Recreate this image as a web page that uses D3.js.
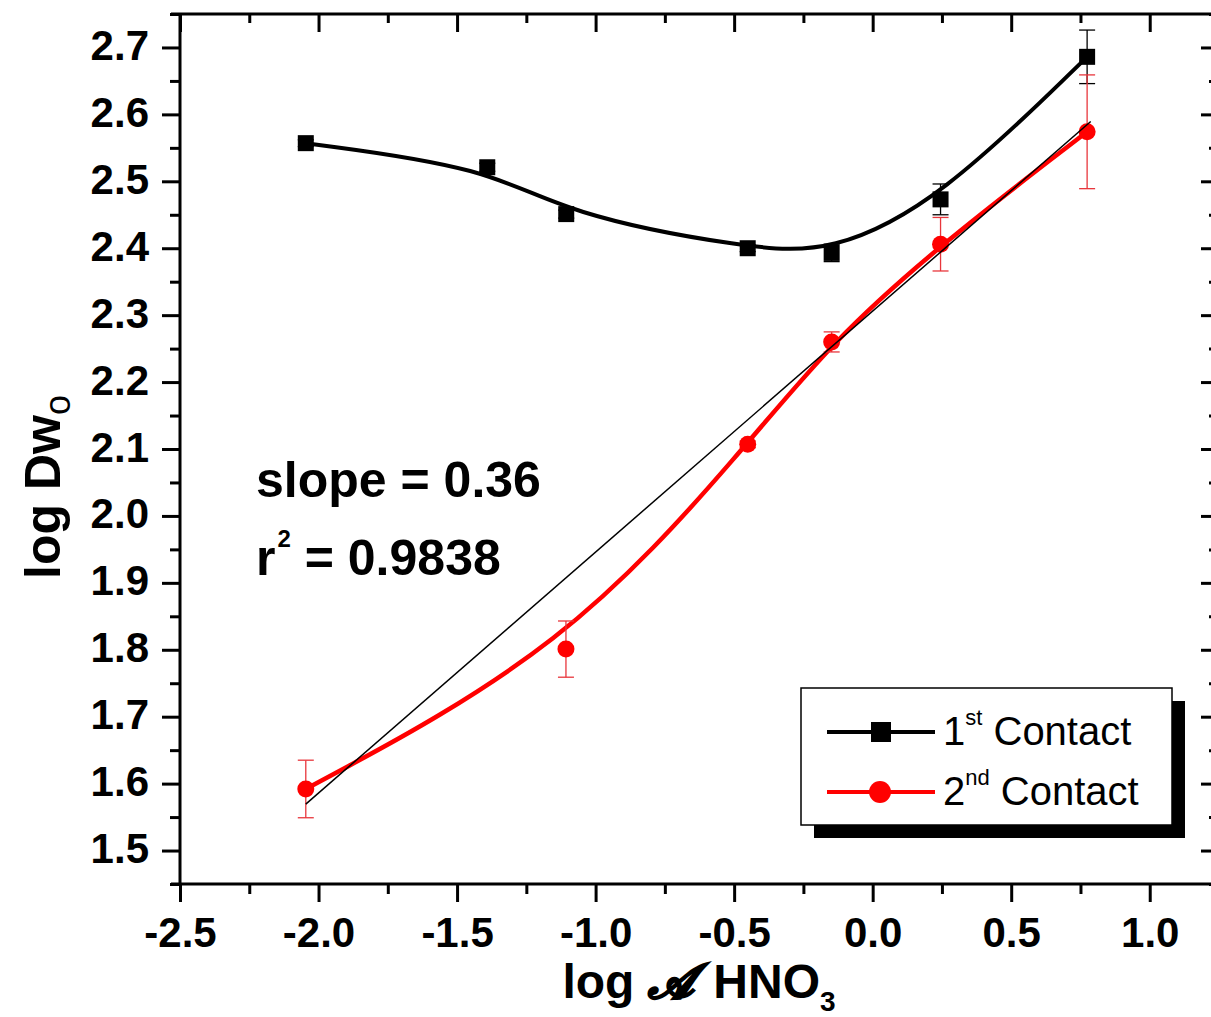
<!DOCTYPE html>
<html>
<head>
<meta charset="utf-8">
<script src="https://cdn.jsdelivr.net/npm/d3@7"></script>
<style>
  body { margin: 0; background: #fff; }
  svg { display: block; }
  text { font-family: "Liberation Sans", Arial, Helvetica, sans-serif; }
</style>
</head>
<body>
<svg id="chart" width="1211" height="1017"></svg>
<script>
// Axis ticks and their printed labels
const xTickValues = [-2.5, -2.0, -1.5, -1.0, -0.5, 0.0, 0.5, 1.0];
const xTickLabels = ["-2.5", "-2.0", "-1.5", "-1.0", "-0.5", "0.0", "0.5", "1.0"];
const yTickValues = [1.5, 1.6, 1.7, 1.8, 1.9, 2.0, 2.1, 2.2, 2.3, 2.4, 2.5, 2.6, 2.7];
const yTickLabels = ["1.5", "1.6", "1.7", "1.8", "1.9", "2.0", "2.1", "2.2", "2.3", "2.4", "2.5", "2.6", "2.7"];

// 1st contact: log a(HNO3) vs log Dw, with standard errors
const firstX   = [-2.046, -1.391, -1.106, -0.451, -0.148, 0.245, 0.774];
const firstY   = [2.557, 2.521, 2.451, 2.400, 2.393, 2.473, 2.686];
const firstErr = [0.005, 0.006, 0.006, 0.005, 0.013, 0.023, 0.040];

// 2nd contact
const secondX   = [-2.046, -1.107, -0.451, -0.148, 0.245, 0.774];
const secondY   = [1.592, 1.801, 2.107, 2.260, 2.406, 2.574];
const secondErr = [0.043, 0.042, 0.005, 0.015, 0.040, 0.085];

// Linear fit of the 2nd contact
const fitSlope = 0.36;
const fitIntercept = 2.306;
const fitXRange = [-2.046, 0.787];
const fitR2 = "0.9838";

const seriesNames = ["Contact", "Contact"];

const svg = d3.select("#chart");
const W = 1211, H = 1017;
svg.append("rect").attr("width", W).attr("height", H).attr("fill", "#fff");

const plot = { left: 180, right: 1219, top: 14, bottom: 884 };

const x = d3.scaleLinear().domain([-2.5, 1.25]).range([plot.left, plot.right]);
const y = d3.scaleLinear().domain([1.45, 2.75]).range([plot.bottom, plot.top]);

const xMinor = d3.range(-2.5, 1.2501, 0.25).filter(v => !xTickValues.some(t => Math.abs(t - v) < 1e-6));
const yMinor = d3.range(1.45, 2.7501, 0.05).filter(v => !yTickValues.some(t => Math.abs(t - v) < 1e-6));

const AXW = 3;

function styleAxis(g) {
  g.select(".domain").remove();
  g.selectAll(".tick line").attr("stroke", "#000").attr("stroke-width", AXW);
}

// Left axis (outward ticks, labelled)
const gLeft = svg.append("g").attr("transform", `translate(${plot.left},0)`)
  .call(d3.axisLeft(y).tickValues(yTickValues)
    .tickFormat(d => yTickLabels[yTickValues.indexOf(d)])
    .tickSize(18).tickPadding(13));
styleAxis(gLeft);
gLeft.selectAll(".tick text")
  .attr("fill", "#000").attr("font-size", 42).attr("font-weight", "bold")
  .attr("font-family", "'Liberation Sans', Arial, sans-serif")
  .attr("dy", 12);
svg.append("g").attr("transform", `translate(${plot.left},0)`)
  .call(d3.axisLeft(y).tickValues(yMinor).tickFormat("").tickSize(10))
  .call(styleAxis);

// Bottom axis (outward ticks, labelled)
const gBottom = svg.append("g").attr("transform", `translate(0,${plot.bottom})`)
  .call(d3.axisBottom(x).tickValues(xTickValues)
    .tickFormat(d => xTickLabels[xTickValues.indexOf(d)])
    .tickSize(18).tickPadding(8));
styleAxis(gBottom);
gBottom.selectAll(".tick text")
  .attr("fill", "#000").attr("font-size", 42).attr("font-weight", "bold")
  .attr("font-family", "'Liberation Sans', Arial, sans-serif")
  .attr("dy", 0).attr("y", 63);
svg.append("g").attr("transform", `translate(0,${plot.bottom})`)
  .call(d3.axisBottom(x).tickValues(xMinor).tickFormat("").tickSize(10))
  .call(styleAxis);

// Top axis (inward ticks)
svg.append("g").attr("transform", `translate(0,${plot.top})`)
  .call(d3.axisTop(x).tickValues(xTickValues).tickFormat("").tickSize(-18))
  .call(styleAxis);
svg.append("g").attr("transform", `translate(0,${plot.top})`)
  .call(d3.axisTop(x).tickValues(xMinor).tickFormat("").tickSize(-9))
  .call(styleAxis);

// Right axis (inward ticks)
svg.append("g").attr("transform", `translate(${plot.right},0)`)
  .call(d3.axisRight(y).tickValues(yTickValues).tickFormat("").tickSize(-18))
  .call(styleAxis);
svg.append("g").attr("transform", `translate(${plot.right},0)`)
  .call(d3.axisRight(y).tickValues(yMinor).tickFormat("").tickSize(-10))
  .call(styleAxis);

// Frame lines
const frame = svg.append("g").attr("stroke", "#000").attr("stroke-width", AXW).attr("fill", "none");
frame.append("line").attr("x1", plot.left - 9).attr("x2", plot.right).attr("y1", plot.top).attr("y2", plot.top);
frame.append("line").attr("x1", plot.left - 9).attr("x2", plot.right).attr("y1", plot.bottom).attr("y2", plot.bottom);
frame.append("line").attr("x1", plot.left).attr("x2", plot.left).attr("y1", plot.top).attr("y2", plot.bottom);
frame.append("line").attr("x1", plot.right).attr("x2", plot.right).attr("y1", plot.top).attr("y2", plot.bottom);

// Data
const first = firstX.map((v, i) => ({ x: v, y: firstY[i], e: firstErr[i] }));
const second = secondX.map((v, i) => ({ x: v, y: secondY[i], e: secondErr[i] }));

const spline = d3.line().x(d => x(d.x)).y(d => y(d.y)).curve(d3.curveBasis);

svg.append("path").datum(first).attr("d", spline)
  .attr("fill", "none").attr("stroke", "#000").attr("stroke-width", 4);
svg.append("path").datum(second).attr("d", spline)
  .attr("fill", "none").attr("stroke", "#ff0000").attr("stroke-width", 4.5);

function errorBars(data, color) {
  const g = svg.append("g").attr("stroke", color).attr("stroke-width", 1.3).attr("fill", "none");
  data.forEach(d => {
    const cx = x(d.x), y0 = y(d.y - d.e), y1 = y(d.y + d.e);
    g.append("line").attr("x1", cx).attr("x2", cx).attr("y1", y0).attr("y2", y1);
    g.append("line").attr("x1", cx - 8).attr("x2", cx + 8).attr("y1", y0).attr("y2", y0);
    g.append("line").attr("x1", cx - 8).attr("x2", cx + 8).attr("y1", y1).attr("y2", y1);
  });
}
errorBars(first, "#000");
errorBars(second, "#e8363c");

svg.append("g").selectAll("rect").data(first).join("rect")
  .attr("x", d => x(d.x) - 8).attr("y", d => y(d.y) - 8)
  .attr("width", 16).attr("height", 16).attr("fill", "#000");
svg.append("g").selectAll("circle").data(second).join("circle")
  .attr("cx", d => x(d.x)).attr("cy", d => y(d.y)).attr("r", 8.5).attr("fill", "#ff0000");

// Fitted straight line
svg.append("line")
  .attr("x1", x(fitXRange[0])).attr("y1", y(fitIntercept + fitSlope * fitXRange[0]))
  .attr("x2", x(fitXRange[1])).attr("y2", y(fitIntercept + fitSlope * fitXRange[1]))
  .attr("stroke", "#000").attr("stroke-width", 1.5);

// Fit annotation
const ann = svg.append("g").attr("font-weight", "bold").attr("fill", "#000");
ann.append("text").attr("x", 256).attr("y", 497).attr("font-size", 50)
  .text(`slope = ${fitSlope.toFixed(2)}`);
const r2t = ann.append("text").attr("x", 256).attr("y", 575).attr("font-size", 50);
r2t.append("tspan").text("r");
r2t.append("tspan").attr("font-size", 24).attr("dy", -28).attr("dx", 2).text("2");
r2t.append("tspan").attr("dy", 28).text(` = ${fitR2}`);

// Axis titles
const yTitle = svg.append("text")
  .attr("transform", "translate(60,487) rotate(-90)")
  .attr("text-anchor", "middle").attr("font-size", 50).attr("font-weight", "bold");
yTitle.append("tspan").text("log Dw");
yTitle.append("tspan").attr("font-size", 36).attr("font-weight", "normal").attr("dy", 10).text("o");

const xTitle = svg.append("text")
  .attr("x", 699).attr("y", 998)
  .attr("text-anchor", "middle").attr("font-size", 48).attr("font-weight", "bold");
xTitle.append("tspan").text("log");
xTitle.append("tspan").attr("dx", 14)
  .attr("font-family", "'DejaVu Serif', 'DejaVu Sans', serif").attr("font-style", "italic")
  .attr("stroke", "#000").attr("stroke-width", 2).text("\u{1D49C}");
xTitle.append("tspan").attr("dx", 20).text("HNO");
xTitle.append("tspan").attr("font-size", 28).attr("dy", 13).text("3");

// Legend
const lg = svg.append("g");
const box = { x: 801, y: 688, w: 371, h: 137 };
lg.append("rect").attr("x", box.x + 13).attr("y", box.y + 13).attr("width", box.w).attr("height", box.h).attr("fill", "#000");
lg.append("rect").attr("x", box.x).attr("y", box.y).attr("width", box.w).attr("height", box.h)
  .attr("fill", "#fff").attr("stroke", "#000").attr("stroke-width", 1.5);

const legendRows = [
  { color: "#000", shape: "square", num: "1", sup: "st", yy: 732 },
  { color: "#ff0000", shape: "circle", num: "2", sup: "nd", yy: 792 }
];
legendRows.forEach((r, i) => {
  lg.append("line").attr("x1", 827).attr("x2", 935).attr("y1", r.yy).attr("y2", r.yy)
    .attr("stroke", r.color).attr("stroke-width", 4);
  if (r.shape === "square") {
    lg.append("rect").attr("x", 871).attr("y", r.yy - 10).attr("width", 20).attr("height", 20).attr("fill", r.color);
  } else {
    lg.append("circle").attr("cx", 880).attr("cy", r.yy).attr("r", 11).attr("fill", r.color);
  }
  const t = lg.append("text").attr("x", 943).attr("y", r.yy + 13).attr("font-size", 40).attr("fill", "#000");
  t.append("tspan").text(r.num);
  t.append("tspan").attr("font-size", 22).attr("dy", -20).text(r.sup);
  t.append("tspan").attr("dy", 20).text(" " + seriesNames[i]);
});
</script>
</body>
</html>
